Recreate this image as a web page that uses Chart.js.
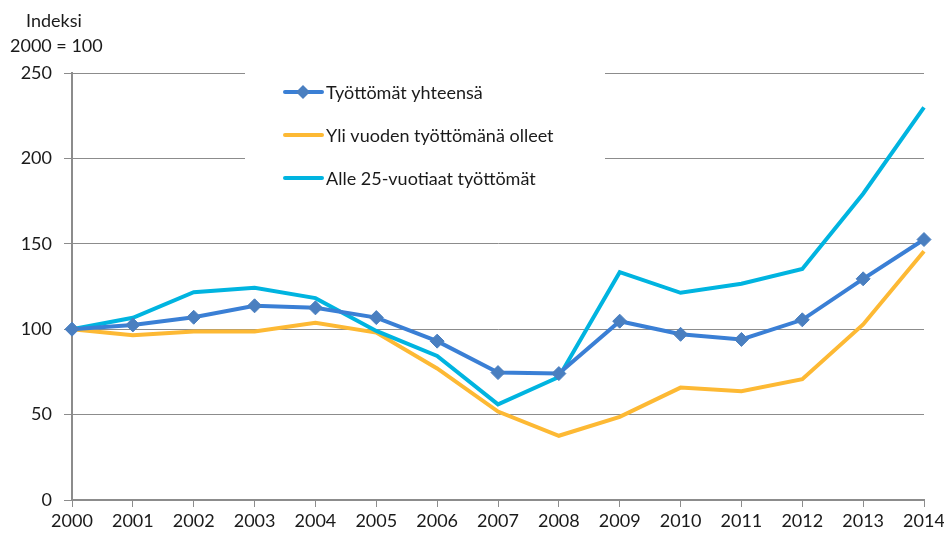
<!DOCTYPE html>
<html lang="fi">
<head>
  <meta charset="UTF-8">
  <title>Työttömät, indeksi 2000 = 100</title>
  <script src="https://cdn.jsdelivr.net/npm/chart.js"></script>
  <style>
    html, body { margin: 0; padding: 0; background: #fff; }
    #wrap { position: relative; width: 944px; height: 533px; }
  </style>
</head>
<body>
  <div id="wrap"><canvas id="chart" width="944" height="533"></canvas></div>

  <script>
    const years = ['2000', '2001', '2002', '2003', '2004', '2005', '2006', '2007',
                   '2008', '2009', '2010', '2011', '2012', '2013', '2014'];
    const totalUnemployed = [100, 102.5, 107, 113.7, 112.5, 106.8, 93, 74.6, 74, 104.7, 97, 94, 105.5, 129.5, 152.5];
    const longTerm = [100, 96.4, 98.7, 98.7, 103.8, 98, 77, 51.8, 37.6, 48.7, 65.8, 63.7, 70.7, 102.8, 145.6];
    const youth = [100, 106.7, 121.7, 124.2, 118.2, 99, 84.3, 56, 72, 133.4, 121.3, 126.6, 135.3, 179.3, 229.9];
    const seriesNames = ['Työttömät yhteensä', 'Yli vuoden työttömänä olleet', 'Alle 25-vuotiaat työttömät'];
    const yTicks = [0, 50, 100, 150, 200, 250];
    const titleLines = ['Indeksi', '2000 = 100'];

    const FONT = 'Lato, "Liberation Sans", Arial, sans-serif';
    const TEXT = '#1a1a1a';
    const GRID = '#8c8c8c';

    // legend sits inside the plot on a white box, like the original
    const insideLegend = {
      id: 'insideLegend',
      beforeDatasetsDraw(chart) {
        const ctx = chart.ctx;
        ctx.save();
        ctx.fillStyle = '#fff';
        ctx.fillRect(245, 66, 360, 136);
        ctx.font = '18px ' + FONT;
        ctx.textBaseline = 'middle';
        chart.data.datasets.forEach((ds, i) => {
          const y = 92 + i * 43;
          ctx.strokeStyle = ds.borderColor;
          ctx.lineWidth = 4;
          ctx.lineCap = 'round';
          ctx.beginPath();
          ctx.moveTo(285, y);
          ctx.lineTo(322, y);
          ctx.stroke();
          if (ds.pointStyle === 'rectRot') {
            ctx.fillStyle = ds.pointBackgroundColor;
            ctx.beginPath();
            ctx.moveTo(303, y - 7);
            ctx.lineTo(310, y);
            ctx.lineTo(303, y + 7);
            ctx.lineTo(296, y);
            ctx.closePath();
            ctx.fill();
          }
          ctx.fillStyle = TEXT;
          ctx.textAlign = 'left';
          ctx.fillText(ds.label, 326, y + 1);
        });
        ctx.restore();
      }
    };

    const axisTitle = {
      id: 'axisTitle',
      afterDraw(chart) {
        const ctx = chart.ctx;
        ctx.save();
        ctx.font = '18px ' + FONT;
        ctx.fillStyle = TEXT;
        ctx.textBaseline = 'middle';
        ctx.textAlign = 'left';
        ctx.fillText(titleLines[0], 26, 21);
        ctx.fillText(titleLines[1], 10, 46);
        ctx.restore();
      }
    };

    new Chart(document.getElementById('chart'), {
      type: 'line',
      data: {
        labels: years,
        datasets: [
          {
            label: seriesNames[0],
            data: totalUnemployed,
            borderColor: '#3a7fd5',
            borderWidth: 4,
            pointStyle: 'rectRot',
            pointRadius: 7,
            pointHoverRadius: 7,
            pointBackgroundColor: '#4a7fc0',
            pointBorderColor: '#4a7fc0',
            pointBorderWidth: 1,
            tension: 0,
            order: 0
          },
          {
            label: seriesNames[1],
            data: longTerm,
            borderColor: '#fdb934',
            borderWidth: 4,
            pointRadius: 0,
            tension: 0,
            order: 2
          },
          {
            label: seriesNames[2],
            data: youth,
            borderColor: '#00b4e0',
            borderWidth: 4,
            pointRadius: 0,
            tension: 0,
            order: 1
          }
        ]
      },
      options: {
        responsive: false,
        animation: false,
        layout: { padding: { top: 73, right: 20, left: 0, bottom: 0 } },
        plugins: {
          legend: { display: false },
          tooltip: { enabled: false }
        },
        scales: {
          x: {
            offset: false,
            grid: { drawOnChartArea: false, drawTicks: true, tickLength: 7, color: GRID },
            border: { color: GRID, width: 2 },
            ticks: { color: TEXT, font: { family: FONT, size: 18 }, padding: 3, maxRotation: 0, autoSkip: false },
            afterFit(scale) {
              scale.height = 33;
              scale.paddingLeft = 0;
              scale.paddingRight = 0;
            }
          },
          y: {
            min: 0,
            max: 250,
            afterBuildTicks(scale) { scale.ticks = yTicks.map(v => ({ value: v })); },
            grid: { color: GRID, lineWidth: 1, tickLength: 8 },
            border: { color: GRID, width: 2 },
            ticks: { color: TEXT, font: { family: FONT, size: 18 }, padding: 12 },
            afterFit(scale) { scale.width = 72; }
          }
        }
      },
      plugins: [insideLegend, axisTitle]
    });
  </script>
</body>
</html>
